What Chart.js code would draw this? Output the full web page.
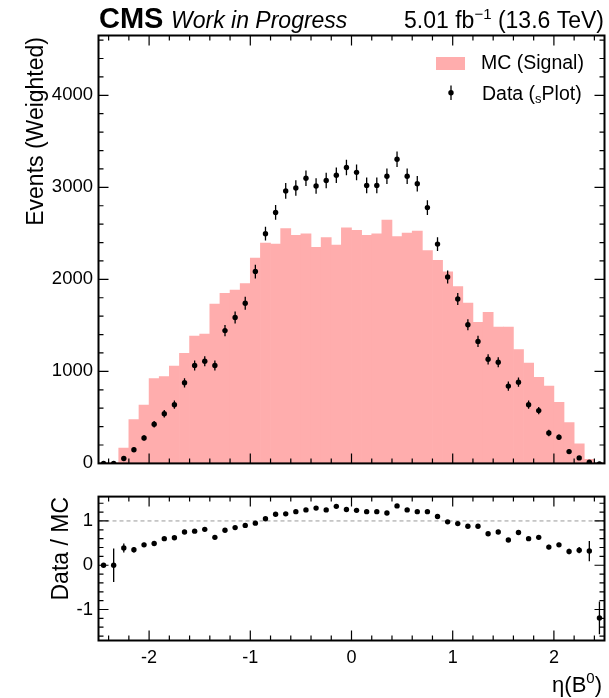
<!DOCTYPE html>
<html><head><meta charset="utf-8">
<script src="https://cdn.jsdelivr.net/npm/chart.js@4.4.1/dist/chart.umd.min.js"></script>
<style>
html,body{margin:0;padding:0;background:#fff;}
#wrap{position:relative;width:609px;height:698px;overflow:hidden;}
canvas{position:absolute;left:0;}
#c1{top:0;} #c2{top:480px;}
</style></head><body>
<div id="wrap"><canvas id="c1" width="609" height="480"></canvas><canvas id="c2" width="609" height="218"></canvas></div>
<script>
// ---- data ----
const binCenters = [-2.45,-2.35,-2.25,-2.15,-2.05,-1.95,-1.85,-1.75,-1.65,-1.55,
  -1.45,-1.35,-1.25,-1.15,-1.05,-0.95,-0.85,-0.75,-0.65,-0.55,
  -0.45,-0.35,-0.25,-0.15,-0.05,0.05,0.15,0.25,0.35,0.45,
  0.55,0.65,0.75,0.85,0.95,1.05,1.15,1.25,1.35,1.45,
  1.55,1.65,1.75,1.85,1.95,2.05,2.15,2.25,2.35,2.45];
const mcValues = [5,10,167,475,635,922,943,1057,1195,1383,
  1404,1730,1847,1883,1954,2230,2394,2383,2553,2479,
  2496,2348,2454,2372,2560,2532,2479,2496,2645,2465,
  2503,2525,2312,2206,2081,1922,1741,1532,1642,1482,
  1482,1238,1089,936,840,663,443,213,43,5];
const dataValues = [0,0,53,149,277,426,539,638,876,1064,
  1110,1064,1443,1585,1741,2085,2496,2727,2961,2993,
  3099,3014,3074,3131,3216,3163,3021,3021,3120,3305,
  3120,3039,2780,2383,2025,1787,1507,1326,1131,1099,
  840,883,638,574,330,284,128,60,13,-6];
const dataErrors = [5,8,20,25,30,35,40,45,50,55,
  55,55,60,65,70,75,75,80,85,85,
  85,85,85,85,85,85,85,85,85,85,
  85,85,80,75,70,65,60,60,55,55,
  50,50,45,40,35,30,25,15,10,8];
const ratioValues = [0.0,0.0,0.39,0.35,0.46,0.49,0.60,0.62,0.75,0.77,
  0.81,0.63,0.79,0.85,0.90,0.95,1.05,1.15,1.16,1.21,
  1.25,1.29,1.25,1.33,1.26,1.24,1.21,1.21,1.18,1.34,
  1.25,1.21,1.21,1.10,0.98,0.94,0.88,0.88,0.71,0.75,
  0.57,0.74,0.60,0.63,0.41,0.46,0.31,0.34,0.32,-1.19];
const ratioErrors = [0.02,0.38,0.10,0.06,0.05,0.04,0.04,0.04,0.04,0.04,
  0.04,0.03,0.03,0.03,0.03,0.03,0.03,0.03,0.03,0.03,
  0.03,0.03,0.03,0.03,0.03,0.03,0.03,0.03,0.03,0.03,
  0.03,0.03,0.03,0.03,0.03,0.03,0.03,0.04,0.04,0.04,
  0.04,0.04,0.04,0.05,0.05,0.05,0.06,0.07,0.23,0.37];
const xTickLabels = [-2,-1,0,1,2];
const mainYTickLabels = [0,1000,2000,3000,4000];
const ratioYTickLabels = [-1,0,1];

// ---- style ----
const FONT = "'Liberation Sans', Arial, Helvetica, sans-serif";
const PINK = '#ffadad';
const L = 98.5, R = 604.5;

function range(a, b, step) { const out = []; for (let v = a; v <= b + 1e-9; v += step) out.push(Math.round(v * 1000) / 1000); return out; }
const plainLabel = v => String(v);

function framePlugin(xMajor, xMinor, yMajor, yMinor) {
  return { id: 'frame', afterDraw(chart) {
    const { ctx, chartArea: a, scales: { x, y } } = chart;
    ctx.save();
    ctx.strokeStyle = '#000'; ctx.lineWidth = 1.2;
    ctx.beginPath();
    const xt = (v, len) => { const p = x.getPixelForValue(v); ctx.moveTo(p, a.bottom); ctx.lineTo(p, a.bottom - len); ctx.moveTo(p, a.top); ctx.lineTo(p, a.top + len); };
    const yt = (v, len) => { const p = y.getPixelForValue(v); ctx.moveTo(a.left, p); ctx.lineTo(a.left + len, p); ctx.moveTo(a.right, p); ctx.lineTo(a.right - len, p); };
    xMajor.forEach(v => xt(v, 10)); xMinor.forEach(v => xt(v, 5));
    yMajor.forEach(v => yt(v, 10)); yMinor.forEach(v => yt(v, 5));
    ctx.stroke();
    ctx.lineWidth = 2;
    ctx.strokeRect(a.left, a.top, a.right - a.left, a.bottom - a.top);
    ctx.restore();
  } };
}

function errorBarPlugin(values, errors) {
  return { id: 'errbars', afterDatasetsDraw(chart) {
    const { ctx, chartArea: a, scales: { x, y } } = chart;
    ctx.save();
    ctx.beginPath(); ctx.rect(a.left, a.top, a.right - a.left, a.bottom - a.top); ctx.clip();
    ctx.strokeStyle = '#000'; ctx.lineWidth = 1.3;
    ctx.beginPath();
    binCenters.forEach((c, i) => {
      const px = x.getPixelForValue(c);
      ctx.moveTo(px, y.getPixelForValue(values[i] - errors[i]));
      ctx.lineTo(px, y.getPixelForValue(values[i] + errors[i]));
    });
    ctx.stroke();
    ctx.restore();
  } };
}

function rotTitle(ctx, text, x, yTop, size) {
  ctx.save();
  ctx.font = `${size}px ${FONT}`; ctx.fillStyle = '#000';
  ctx.translate(x, yTop); ctx.rotate(-Math.PI / 2);
  ctx.textAlign = 'right'; ctx.textBaseline = 'alphabetic';
  ctx.fillText(text, 0, 0);
  ctx.restore();
}

const headerPlugin = { id: 'header', afterDraw(chart) {
  const ctx = chart.ctx;
  ctx.save();
  ctx.fillStyle = '#000'; ctx.textBaseline = 'alphabetic'; ctx.textAlign = 'left';
  ctx.font = `bold 29px ${FONT}`; ctx.fillText('CMS', 99, 28);
  ctx.font = `italic 23px ${FONT}`; ctx.fillText('Work in Progress', 171, 28);
  // luminosity text, right aligned
  const big = `23px ${FONT}`, small = `15px ${FONT}`;
  ctx.font = big; const w1 = ctx.measureText('5.01 fb').width; const w3 = ctx.measureText(' (13.6 TeV)').width;
  ctx.font = small; const w2 = ctx.measureText('\u22121').width;
  let sx = 604 - (w1 + w2 + w3);
  ctx.font = big; ctx.fillText('5.01 fb', sx, 28); sx += w1;
  ctx.font = small; ctx.fillText('\u22121', sx, 19); sx += w2;
  ctx.font = big; ctx.fillText(' (13.6 TeV)', sx, 28);
  // y title
  rotTitle(ctx, 'Events (Weighted)', 42.5, 37, 23);
  // legend
  ctx.fillStyle = PINK; ctx.fillRect(436, 57, 29, 13);
  ctx.fillStyle = '#000'; ctx.font = `19.5px ${FONT}`; ctx.textBaseline = 'middle';
  ctx.fillText('MC (Signal)', 481, 64);
  ctx.strokeStyle = '#000'; ctx.lineWidth = 1.3;
  ctx.beginPath(); ctx.moveTo(451, 85.5); ctx.lineTo(451, 100); ctx.stroke();
  ctx.beginPath(); ctx.arc(451, 92.7, 2.7, 0, Math.PI * 2); ctx.fill();
  ctx.textBaseline = 'alphabetic';
  let lx = 482; const by = 99.5;
  ctx.font = `19.5px ${FONT}`; ctx.fillText('Data (', lx, by); lx += ctx.measureText('Data (').width;
  ctx.font = `13px ${FONT}`; ctx.fillText('s', lx, by + 3); lx += ctx.measureText('s').width;
  ctx.font = `19.5px ${FONT}`; ctx.fillText('Plot)', lx, by);
  ctx.restore();
} };

const ratioTextPlugin = { id: 'ratioText', afterDraw(chart) {
  const ctx = chart.ctx;
  rotTitle(ctx, 'Data / MC', 68, 17, 23);
  ctx.save();
  ctx.fillStyle = '#000'; ctx.textBaseline = 'alphabetic'; ctx.textAlign = 'left';
  const big = `22px ${FONT}`, small = `15px ${FONT}`;
  ctx.font = big; const a = ctx.measureText('\u03B7(B').width; const c = ctx.measureText(')').width;
  ctx.font = small; const b = ctx.measureText('0').width;
  let sx = 602 - (a + b + c);
  ctx.font = big; ctx.fillText('\u03B7(B', sx, 212); sx += a;
  ctx.font = small; ctx.fillText('0', sx, 203); sx += b;
  ctx.font = big; ctx.fillText(')', sx, 212);
  ctx.restore();
} };

const refLinePlugin = { id: 'refLine', beforeDatasetsDraw(chart) {
  const { ctx, chartArea: a, scales: { y } } = chart;
  const p = y.getPixelForValue(1);
  ctx.save(); ctx.strokeStyle = '#9a9a9a'; ctx.lineWidth = 1; ctx.setLineDash([4, 3]);
  ctx.beginPath(); ctx.moveTo(a.left, p); ctx.lineTo(a.right, p); ctx.stroke(); ctx.restore();
} };

const xMinor = range(-2.4, 2.4, 0.2).filter(v => Math.abs(v - Math.round(v)) > 1e-6);

// ---- main panel ----
new Chart(document.getElementById('c1'), {
  type: 'bar',
  data: { datasets: [
    { type: 'bar', label: 'MC (Signal)', data: binCenters.map((x, i) => ({ x, y: mcValues[i] })),
      backgroundColor: PINK, borderWidth: 0, barPercentage: 1, categoryPercentage: 1, grouped: false, order: 2 },
    { type: 'scatter', label: 'Data (sPlot)', data: binCenters.map((x, i) => ({ x, y: dataValues[i] })),
      pointRadius: 2.7, pointBackgroundColor: '#000', pointBorderWidth: 0, order: 1 }
  ] },
  options: {
    responsive: false, animation: false, devicePixelRatio: 1,
    layout: { padding: { top: 35.5, right: 609 - R, left: 0, bottom: 0 } },
    plugins: { legend: { display: false }, tooltip: { enabled: false } },
    scales: {
      x: { type: 'linear', min: -2.5, max: 2.5, offset: false,
        grid: { display: false, drawTicks: false }, border: { display: false },
        ticks: { display: false }, afterFit: s => { s.height = 480 - 471.5; } },
      y: { type: 'linear', min: 0, max: 4650,
        grid: { display: false, drawTicks: false }, border: { display: false },
        ticks: { font: { family: FONT, size: 18.5 }, color: '#000', padding: 5.5, callback: plainLabel },
        afterBuildTicks: s => { s.ticks = mainYTickLabels.map(v => ({ value: v })); },
        afterFit: s => { s.width = L; } }
    }
  },
  plugins: [errorBarPlugin(dataValues, dataErrors), framePlugin(xTickLabels, xMinor, mainYTickLabels, range(200, 4600, 200).filter(v => v % 1000 !== 0)), headerPlugin]
});

// ---- ratio panel ----
new Chart(document.getElementById('c2'), {
  type: 'scatter',
  data: { datasets: [
    { label: 'Data / MC', data: binCenters.map((x, i) => ({ x, y: ratioValues[i] })),
      pointRadius: 2.7, pointBackgroundColor: '#000', pointBorderWidth: 0 }
  ] },
  options: {
    responsive: false, animation: false, devicePixelRatio: 1,
    layout: { padding: { top: 14.5, right: 609 - R, left: 0, bottom: 0 } },
    plugins: { legend: { display: false }, tooltip: { enabled: false } },
    scales: {
      x: { type: 'linear', min: -2.5, max: 2.5,
        grid: { display: false, drawTicks: false }, border: { display: false },
        ticks: { font: { family: FONT, size: 18 }, color: '#000', padding: 7, maxRotation: 0, callback: plainLabel },
        afterBuildTicks: s => { s.ticks = xTickLabels.map(v => ({ value: v })); },
        afterFit: s => { s.height = 218 - 160.5; } },
      y: { type: 'linear', min: -1.7, max: 1.55,
        grid: { display: false, drawTicks: false }, border: { display: false },
        ticks: { font: { family: FONT, size: 18.5 }, color: '#000', padding: 5.5, callback: plainLabel },
        afterBuildTicks: s => { s.ticks = ratioYTickLabels.map(v => ({ value: v })); },
        afterFit: s => { s.width = L; } }
    }
  },
  plugins: [refLinePlugin, errorBarPlugin(ratioValues, ratioErrors), framePlugin(xTickLabels, xMinor, ratioYTickLabels, range(-1.6, 1.4, 0.2).filter(v => Math.abs(v - Math.round(v)) > 1e-6)), ratioTextPlugin]
});
</script>
</body></html>
